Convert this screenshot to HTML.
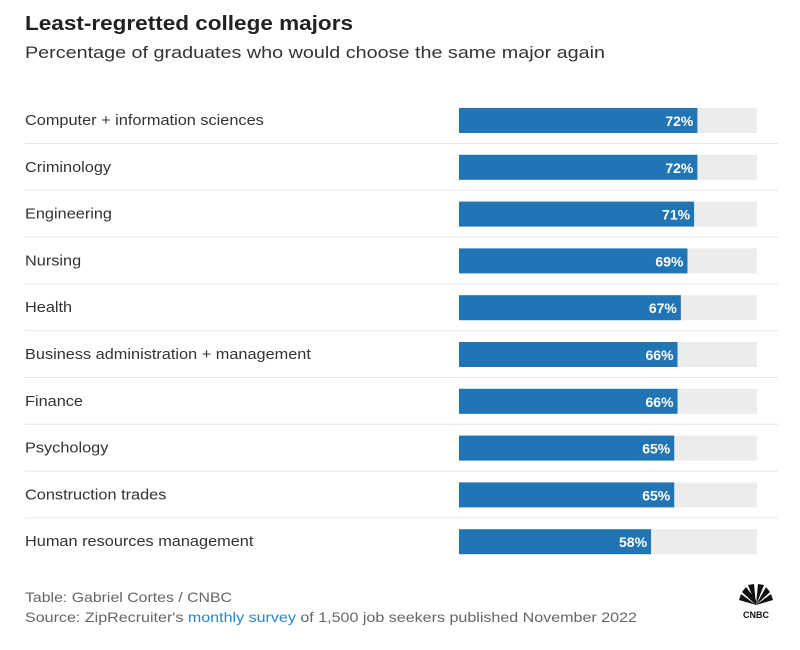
<!DOCTYPE html>
<html><head><meta charset="utf-8"><style>
body{margin:0;background:#fff;width:800px;height:645px;overflow:hidden;font-family:"Liberation Sans",sans-serif}
</style></head><body>
<svg width="800" height="645" xmlns="http://www.w3.org/2000/svg">
<text x="25" y="30" font-size="20" font-weight="bold" fill="#222" textLength="328" lengthAdjust="spacingAndGlyphs">Least-regretted college majors</text>
<text x="25" y="58" font-size="17" fill="#333" textLength="580" lengthAdjust="spacingAndGlyphs">Percentage of graduates who would choose the same major again</text>
<g id="rows"></g>
<text x="25" y="602" font-size="14" fill="#666" textLength="207" lengthAdjust="spacingAndGlyphs">Table: Gabriel Cortes / CNBC</text>
<text x="25" y="622" font-size="14" fill="#666" textLength="612" lengthAdjust="spacingAndGlyphs">Source: ZipRecruiter's <tspan fill="#2a86c4">monthly survey</tspan> of 1,500 job seekers published November 2022</text>
<g>
<path d="M756 605 L742 592 L746 587 L756 600 Z M756 605 L748 585 L754 584 Z M756 605 L758 584 L764 585 Z M756 605 L766 587 L770 592 Z M756 605 L771 594 L773 600 Z M756 605 L739 600 L741 594 Z" fill="#111"/>
<text x="756" y="618" font-size="9" font-weight="bold" text-anchor="middle" fill="#111">CNBC</text>
</g>
</svg>
<script>
const categories=["Computer + information sciences","Criminology","Engineering","Nursing","Health","Business administration + management","Finance","Psychology","Construction trades","Human resources management"];
const values=[72,72,71,69,67,66,66,65,65,58];
const domainMax=90;
const NS="http://www.w3.org/2000/svg";
const g=document.getElementById('rows');
const x0=459,trackW=298,rowH=46.8,y0=108,barH=25;
function xs(v){return v/domainMax*trackW;}
function mk(t,a){const e=document.createElementNS(NS,t);for(const k in a)e.setAttribute(k,a[k]);return e;}
categories.forEach((c,i)=>{
  const y=y0+i*rowH;
  const lab=mk('text',{x:25,y:y+17,'font-size':15,fill:'#333'});lab.textContent=c;
  
  
  g.appendChild(lab);
  const L=lab.getComputedTextLength();
  if(L>0){lab.setAttribute('textLength',(L*1.087).toFixed(1));lab.setAttribute('lengthAdjust','spacingAndGlyphs');}
  const tr=mk('rect',{x:x0,y:y,width:trackW,height:barH,fill:'#ececec'});
  
  
  g.appendChild(tr);
  const w=xs(values[i]);
  const b=mk('rect',{x:x0,y:y,width:w,height:barH,fill:'#2175b4'});
  
  
  g.appendChild(b);
  const v=mk('text',{x:x0+w-4,y:y+18,'font-size':14,'font-weight':'bold',fill:'#fff','text-anchor':'end'});v.textContent=values[i]+'%';
  
  
  g.appendChild(v);
  if(i<categories.length-1){
    const l=mk('line',{x1:25,x2:778,y1:y+35.5,y2:y+35.5,stroke:'#e6e6e6','stroke-width':1});
    
    
    g.appendChild(l);
  }
});
</script>
</body></html>
